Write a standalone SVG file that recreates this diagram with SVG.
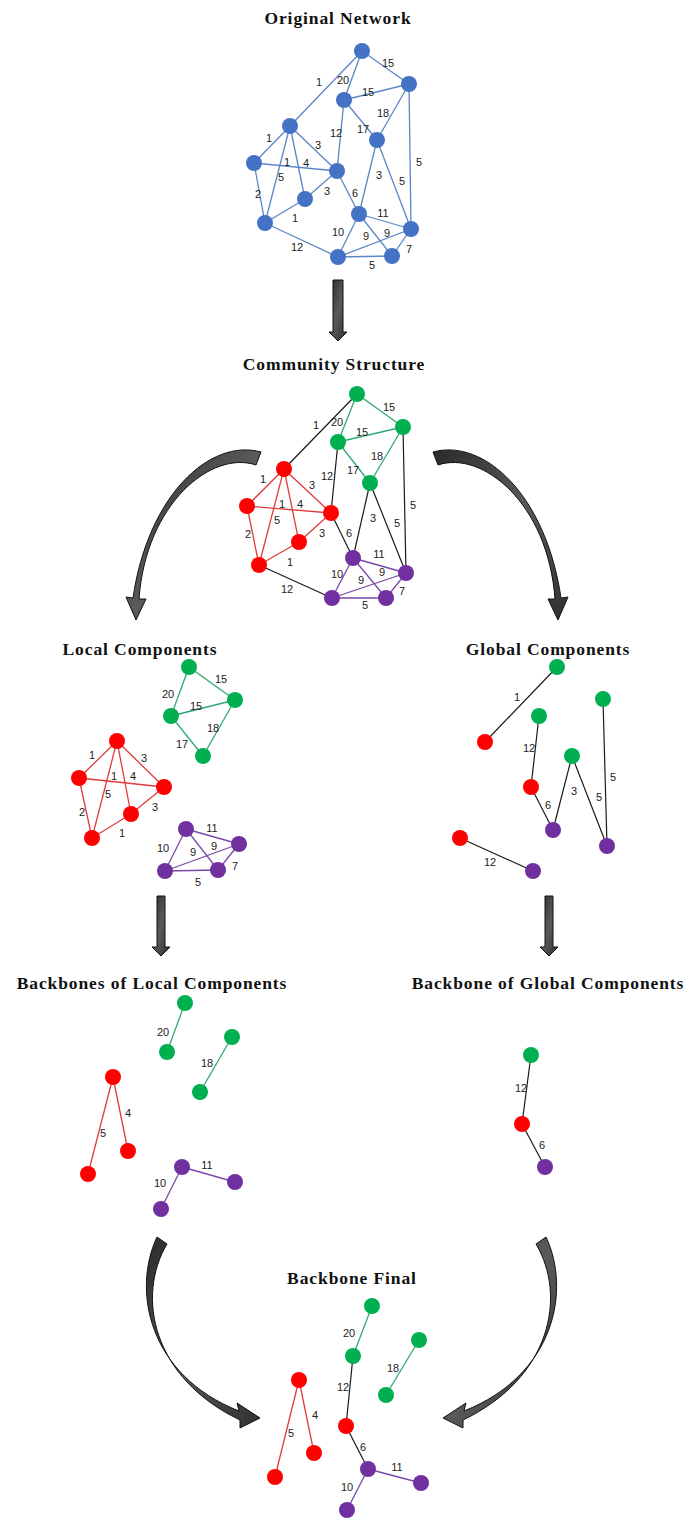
<svg xmlns="http://www.w3.org/2000/svg" width="689" height="1520" viewBox="0 0 689 1520">
<style>
.title{font-family:"Liberation Serif","Times New Roman",serif;font-weight:bold;font-size:17.5px;letter-spacing:0.9px;fill:#111;text-anchor:middle}
.lbl{font-family:"Liberation Sans",Arial,sans-serif;font-size:11px;fill:#222;text-anchor:middle}
.nb{fill:#4472C4}
.ng{fill:#00B050}
.nr{fill:#FF0000}
.np{fill:#7030A0}
.eb{stroke:#5B86C6;stroke-width:1.3}
.eg{stroke:#2FA872;stroke-width:1.3}
.er{stroke:#E23A3A;stroke-width:1.3}
.ep{stroke:#7A48AA;stroke-width:1.3}
.ek{stroke:#1a1a1a;stroke-width:1.2}
.blk{fill:url(#gr);stroke:#111;stroke-width:1}
</style>
<defs>
<linearGradient id="gr" x1="0" y1="0" x2="1" y2="1">
<stop offset="0" stop-color="#2a2a2a"/>
<stop offset="0.5" stop-color="#5a5a5a"/>
<stop offset="1" stop-color="#2f2f2f"/>
</linearGradient>
</defs>
<rect width="689" height="1520" fill="#fff"/>

<g id="titles">
<text class="title" x="338" y="24">Original  Network</text>
<text class="title" x="334" y="370">Community  Structure</text>
<text class="title" x="140" y="655">Local Components</text>
<text class="title" x="548" y="655">Global Components</text>
<text class="title" x="152" y="989">Backbones of Local Components</text>
<text class="title" x="548" y="989">Backbone of Global Components</text>
<text class="title" x="352" y="1284">Backbone Final</text>
</g>

<g id="flow-arrows">
<polygon class="blk" points="333,280 343,280 343,332 347,332 338,341 329,332 333,332"/>
<polygon class="blk" points="157,896 165,896 165,947 170,947 161,956 152,947 157,947"/>
<polygon class="blk" points="545,896 553,896 553,947 558,947 549,956 540,947 545,947"/>
<path class="blk" d="M 261,452 C 210,438 148,495 133,598 L 126,597 L 136,620 L 146,599 L 139,599 C 146,503 212,450 256,465 Z"/>
<path class="blk" d="M 433,452 C 484,438 546,495 561,598 L 568,597 L 558,620 L 548,599 L 555,599 C 548,503 482,450 438,465 Z"/>
<path class="blk" d="M 157,1237 C 132,1290 148,1375 239,1411 L 237,1403 L 260,1418 L 240,1428 L 240,1420 C 152,1378 136,1296 167,1244 Z"/>
<path class="blk" d="M 546,1237 C 571,1290 555,1375 464,1411 L 466,1403 L 443,1418 L 463,1428 L 463,1420 C 551,1378 567,1296 536,1244 Z"/>
</g>

<g id="connectors">
<g id="c-original" class="eb">
<line x1="362" y1="51" x2="290" y2="126"/>
<line x1="362" y1="51" x2="344" y2="100"/>
<line x1="362" y1="51" x2="409" y2="84"/>
<line x1="344" y1="100" x2="409" y2="84"/>
<line x1="377" y1="140" x2="409" y2="84"/>
<line x1="344" y1="100" x2="377" y2="140"/>
<line x1="344" y1="100" x2="337" y2="171"/>
<line x1="290" y1="126" x2="254" y2="163"/>
<line x1="290" y1="126" x2="337" y2="171"/>
<line x1="290" y1="126" x2="305" y2="199"/>
<line x1="290" y1="126" x2="265" y2="223"/>
<line x1="254" y1="163" x2="337" y2="171"/>
<line x1="254" y1="163" x2="265" y2="223"/>
<line x1="305" y1="199" x2="337" y2="171"/>
<line x1="265" y1="223" x2="305" y2="199"/>
<line x1="377" y1="140" x2="359" y2="214"/>
<line x1="377" y1="140" x2="411" y2="229"/>
<line x1="409" y1="84" x2="411" y2="229"/>
<line x1="337" y1="171" x2="359" y2="214"/>
<line x1="359" y1="214" x2="411" y2="229"/>
<line x1="359" y1="214" x2="338" y2="257"/>
<line x1="359" y1="214" x2="392" y2="256"/>
<line x1="338" y1="257" x2="411" y2="229"/>
<line x1="392" y1="256" x2="411" y2="229"/>
<line x1="338" y1="257" x2="392" y2="256"/>
<line x1="265" y1="223" x2="338" y2="257"/>
</g>
<g id="c-community">
<line class="ek" x1="357" y1="394" x2="284" y2="469"/>
<line class="eg" x1="357" y1="394" x2="338" y2="442"/>
<line class="eg" x1="357" y1="394" x2="403" y2="427"/>
<line class="eg" x1="338" y1="442" x2="403" y2="427"/>
<line class="eg" x1="370" y1="483" x2="403" y2="427"/>
<line class="eg" x1="338" y1="442" x2="370" y2="483"/>
<line class="ek" x1="338" y1="442" x2="331" y2="513"/>
<line class="er" x1="284" y1="469" x2="247" y2="506"/>
<line class="er" x1="284" y1="469" x2="331" y2="513"/>
<line class="er" x1="284" y1="469" x2="299" y2="542"/>
<line class="er" x1="284" y1="469" x2="259" y2="565"/>
<line class="er" x1="247" y1="506" x2="331" y2="513"/>
<line class="er" x1="247" y1="506" x2="259" y2="565"/>
<line class="er" x1="299" y1="542" x2="331" y2="513"/>
<line class="er" x1="259" y1="565" x2="299" y2="542"/>
<line class="ek" x1="370" y1="483" x2="353" y2="558"/>
<line class="ek" x1="370" y1="483" x2="406" y2="573"/>
<line class="ek" x1="403" y1="427" x2="406" y2="573"/>
<line class="ek" x1="331" y1="513" x2="353" y2="558"/>
<line class="ep" x1="353" y1="558" x2="406" y2="573"/>
<line class="ep" x1="353" y1="558" x2="332" y2="598"/>
<line class="ep" x1="353" y1="558" x2="386" y2="598"/>
<line class="ep" x1="332" y1="598" x2="406" y2="573"/>
<line class="ep" x1="386" y1="598" x2="406" y2="573"/>
<line class="ep" x1="332" y1="598" x2="386" y2="598"/>
<line class="ek" x1="259" y1="565" x2="332" y2="598"/>
</g>
<g id="c-local">
<line class="eg" x1="189" y1="667" x2="235" y2="700"/>
<line class="eg" x1="189" y1="667" x2="171" y2="716"/>
<line class="eg" x1="171" y1="716" x2="235" y2="700"/>
<line class="eg" x1="235" y1="700" x2="203" y2="756"/>
<line class="eg" x1="171" y1="716" x2="203" y2="756"/>
<line class="er" x1="117" y1="741" x2="79" y2="778"/>
<line class="er" x1="117" y1="741" x2="164" y2="787"/>
<line class="er" x1="117" y1="741" x2="131" y2="814"/>
<line class="er" x1="117" y1="741" x2="92" y2="838"/>
<line class="er" x1="79" y1="778" x2="164" y2="787"/>
<line class="er" x1="79" y1="778" x2="92" y2="838"/>
<line class="er" x1="131" y1="814" x2="164" y2="787"/>
<line class="er" x1="92" y1="838" x2="131" y2="814"/>
<line class="ep" x1="186" y1="829" x2="239" y2="844"/>
<line class="ep" x1="186" y1="829" x2="165" y2="871"/>
<line class="ep" x1="186" y1="829" x2="218" y2="870"/>
<line class="ep" x1="165" y1="871" x2="239" y2="844"/>
<line class="ep" x1="218" y1="870" x2="239" y2="844"/>
<line class="ep" x1="165" y1="871" x2="218" y2="870"/>
</g>
<g id="c-global" class="ek">
<line x1="557" y1="667" x2="485" y2="742"/>
<line x1="539" y1="716" x2="531" y2="787"/>
<line x1="531" y1="787" x2="553" y2="830"/>
<line x1="553" y1="830" x2="572" y2="756"/>
<line x1="572" y1="756" x2="607" y2="846"/>
<line x1="603" y1="699" x2="607" y2="846"/>
<line x1="460" y1="838" x2="533" y2="871"/>
</g>
<g id="c-local-backbone">
<line class="eg" x1="185" y1="1003" x2="167" y2="1052"/>
<line class="eg" x1="232" y1="1037" x2="200" y2="1092"/>
<line class="er" x1="113" y1="1077" x2="128" y2="1151"/>
<line class="er" x1="113" y1="1077" x2="88" y2="1174"/>
<line class="ep" x1="182" y1="1167" x2="235" y2="1182"/>
<line class="ep" x1="182" y1="1167" x2="161" y2="1209"/>
</g>
<g id="c-global-backbone" class="ek">
<line x1="531" y1="1055" x2="522" y2="1124"/>
<line x1="522" y1="1124" x2="545" y2="1167"/>
</g>
<g id="c-final">
<line class="eg" x1="372" y1="1306" x2="353" y2="1356"/>
<line class="eg" x1="419" y1="1340" x2="386" y2="1395"/>
<line class="ek" x1="353" y1="1356" x2="346" y2="1426"/>
<line class="er" x1="299" y1="1380" x2="314" y2="1453"/>
<line class="er" x1="299" y1="1380" x2="275" y2="1477"/>
<line class="ek" x1="346" y1="1426" x2="368" y2="1469"/>
<line class="ep" x1="368" y1="1469" x2="421" y2="1483"/>
<line class="ep" x1="368" y1="1469" x2="347" y2="1510"/>
</g>
</g>

<g id="edge-labels" class="lbl">
<text x="319" y="86">1</text><text x="343" y="84">20</text><text x="388" y="67">15</text><text x="368" y="96">15</text>
<text x="383" y="117">18</text><text x="363" y="133">17</text><text x="336" y="137">12</text><text x="269" y="142">1</text>
<text x="318" y="149">3</text><text x="287" y="166">1</text><text x="306" y="167">4</text><text x="281" y="181">5</text>
<text x="258" y="198">2</text><text x="327" y="195">3</text><text x="295" y="222">1</text><text x="379" y="179">3</text>
<text x="402" y="185">5</text><text x="419" y="166">5</text><text x="355" y="197">6</text><text x="383" y="217">11</text>
<text x="338" y="236">10</text><text x="366" y="240">9</text><text x="387" y="237">9</text><text x="409" y="253">7</text>
<text x="297" y="251">12</text><text x="372" y="269">5</text>

<text x="316" y="429">1</text><text x="337" y="426">20</text><text x="389" y="411">15</text><text x="362" y="436">15</text>
<text x="377" y="460">18</text><text x="353" y="474">17</text><text x="327" y="480">12</text><text x="263" y="483">1</text>
<text x="312" y="489">3</text><text x="282" y="508">1</text><text x="300" y="508">4</text><text x="277" y="524">5</text>
<text x="248" y="538">2</text><text x="322" y="537">3</text><text x="290" y="566">1</text><text x="373" y="522">3</text>
<text x="397" y="527">5</text><text x="413" y="509">5</text><text x="349" y="537">6</text><text x="379" y="558">11</text>
<text x="337" y="578">10</text><text x="361" y="584">9</text><text x="382" y="576">9</text><text x="402" y="595">7</text>
<text x="287" y="593">12</text><text x="365" y="609">5</text>

<text x="221" y="683">15</text><text x="168" y="698">20</text><text x="196" y="710">15</text><text x="213" y="732">18</text>
<text x="182" y="748">17</text><text x="92" y="759">1</text><text x="144" y="762">3</text><text x="114" y="780">1</text>
<text x="133" y="780">4</text><text x="108" y="798">5</text><text x="82" y="816">2</text><text x="155" y="811">3</text>
<text x="122" y="837">1</text><text x="212" y="832">11</text><text x="163" y="852">10</text><text x="193" y="856">9</text>
<text x="214" y="850">9</text><text x="235" y="870">7</text><text x="198" y="886">5</text>

<text x="517" y="701">1</text><text x="529" y="752">12</text><text x="548" y="809">6</text><text x="574" y="795">3</text>
<text x="599" y="801">5</text><text x="613" y="781">5</text><text x="490" y="866">12</text>

<text x="163" y="1036">20</text><text x="207" y="1067">18</text><text x="128" y="1117">4</text><text x="103" y="1137">5</text>
<text x="207" y="1169">11</text><text x="160" y="1187">10</text>

<text x="521" y="1092">12</text><text x="542" y="1149">6</text>

<text x="349" y="1337">20</text><text x="393" y="1372">18</text><text x="343" y="1391">12</text><text x="315" y="1419">4</text>
<text x="291" y="1437">5</text><text x="363" y="1451">6</text><text x="397" y="1471">11</text><text x="347" y="1491">10</text>
</g>

<g id="nodes-original" class="nb">
<g id="o-A"><circle cx="362" cy="51" r="8"/></g>
<g id="o-B"><circle cx="409" cy="84" r="8"/></g>
<g id="o-C"><circle cx="344" cy="100" r="8"/></g>
<g id="o-D"><circle cx="290" cy="126" r="8"/></g>
<g id="o-E"><circle cx="377" cy="140" r="8"/></g>
<g id="o-F"><circle cx="254" cy="163" r="8"/></g>
<g id="o-G"><circle cx="337" cy="171" r="8"/></g>
<g id="o-H"><circle cx="305" cy="199" r="8"/></g>
<g id="o-I"><circle cx="359" cy="214" r="8"/></g>
<g id="o-J"><circle cx="265" cy="223" r="8"/></g>
<g id="o-K"><circle cx="411" cy="229" r="8"/></g>
<g id="o-L"><circle cx="338" cy="257" r="8"/></g>
<g id="o-M"><circle cx="392" cy="256" r="8"/></g>
</g>

<g id="nodes-community">
<g id="c-A" class="ng"><circle cx="357" cy="394" r="8"/></g>
<g id="c-B" class="ng"><circle cx="403" cy="427" r="8"/></g>
<g id="c-C" class="ng"><circle cx="338" cy="442" r="8"/></g>
<g id="c-D" class="nr"><circle cx="284" cy="469" r="8"/></g>
<g id="c-E" class="ng"><circle cx="370" cy="483" r="8"/></g>
<g id="c-F" class="nr"><circle cx="247" cy="506" r="8"/></g>
<g id="c-G" class="nr"><circle cx="331" cy="513" r="8"/></g>
<g id="c-H" class="nr"><circle cx="299" cy="542" r="8"/></g>
<g id="c-I" class="np"><circle cx="353" cy="558" r="8"/></g>
<g id="c-J" class="nr"><circle cx="259" cy="565" r="8"/></g>
<g id="c-K" class="np"><circle cx="406" cy="573" r="8"/></g>
<g id="c-L" class="np"><circle cx="332" cy="598" r="8"/></g>
<g id="c-M" class="np"><circle cx="386" cy="598" r="8"/></g>
</g>

<g id="nodes-local">
<g id="l-A" class="ng"><circle cx="189" cy="667" r="8"/></g>
<g id="l-B" class="ng"><circle cx="235" cy="700" r="8"/></g>
<g id="l-C" class="ng"><circle cx="171" cy="716" r="8"/></g>
<g id="l-E" class="ng"><circle cx="203" cy="756" r="8"/></g>
<g id="l-D" class="nr"><circle cx="117" cy="741" r="8"/></g>
<g id="l-F" class="nr"><circle cx="79" cy="778" r="8"/></g>
<g id="l-G" class="nr"><circle cx="164" cy="787" r="8"/></g>
<g id="l-H" class="nr"><circle cx="131" cy="814" r="8"/></g>
<g id="l-J" class="nr"><circle cx="92" cy="838" r="8"/></g>
<g id="l-I" class="np"><circle cx="186" cy="829" r="8"/></g>
<g id="l-K" class="np"><circle cx="239" cy="844" r="8"/></g>
<g id="l-L" class="np"><circle cx="165" cy="871" r="8"/></g>
<g id="l-M" class="np"><circle cx="218" cy="870" r="8"/></g>
</g>

<g id="nodes-global">
<g id="g-A" class="ng"><circle cx="557" cy="667" r="8"/></g>
<g id="g-D" class="nr"><circle cx="485" cy="742" r="8"/></g>
<g id="g-C" class="ng"><circle cx="539" cy="716" r="8"/></g>
<g id="g-G" class="nr"><circle cx="531" cy="787" r="8"/></g>
<g id="g-E" class="ng"><circle cx="572" cy="756" r="8"/></g>
<g id="g-I" class="np"><circle cx="553" cy="830" r="8"/></g>
<g id="g-B" class="ng"><circle cx="603" cy="699" r="8"/></g>
<g id="g-K" class="np"><circle cx="607" cy="846" r="8"/></g>
<g id="g-J" class="nr"><circle cx="460" cy="838" r="8"/></g>
<g id="g-L" class="np"><circle cx="533" cy="871" r="8"/></g>
</g>

<g id="nodes-local-backbone">
<g id="lb-A" class="ng"><circle cx="185" cy="1003" r="8"/></g>
<g id="lb-C" class="ng"><circle cx="167" cy="1052" r="8"/></g>
<g id="lb-B" class="ng"><circle cx="232" cy="1037" r="8"/></g>
<g id="lb-E" class="ng"><circle cx="200" cy="1092" r="8"/></g>
<g id="lb-D" class="nr"><circle cx="113" cy="1077" r="8"/></g>
<g id="lb-F" class="nr"><circle cx="128" cy="1151" r="8"/></g>
<g id="lb-J" class="nr"><circle cx="88" cy="1174" r="8"/></g>
<g id="lb-I" class="np"><circle cx="182" cy="1167" r="8"/></g>
<g id="lb-K" class="np"><circle cx="235" cy="1182" r="8"/></g>
<g id="lb-L" class="np"><circle cx="161" cy="1209" r="8"/></g>
</g>

<g id="nodes-global-backbone">
<g id="gb-C" class="ng"><circle cx="531" cy="1055" r="8"/></g>
<g id="gb-G" class="nr"><circle cx="522" cy="1124" r="8"/></g>
<g id="gb-I" class="np"><circle cx="545" cy="1167" r="8"/></g>
</g>

<g id="nodes-final">
<g id="f-A" class="ng"><circle cx="372" cy="1306" r="8"/></g>
<g id="f-C" class="ng"><circle cx="353" cy="1356" r="8"/></g>
<g id="f-B" class="ng"><circle cx="419" cy="1340" r="8"/></g>
<g id="f-E" class="ng"><circle cx="386" cy="1395" r="8"/></g>
<g id="f-D" class="nr"><circle cx="299" cy="1380" r="8"/></g>
<g id="f-F" class="nr"><circle cx="314" cy="1453" r="8"/></g>
<g id="f-J" class="nr"><circle cx="275" cy="1477" r="8"/></g>
<g id="f-G" class="nr"><circle cx="346" cy="1426" r="8"/></g>
<g id="f-I" class="np"><circle cx="368" cy="1469" r="8"/></g>
<g id="f-K" class="np"><circle cx="421" cy="1483" r="8"/></g>
<g id="f-L" class="np"><circle cx="347" cy="1510" r="8"/></g>
</g>
</svg>
